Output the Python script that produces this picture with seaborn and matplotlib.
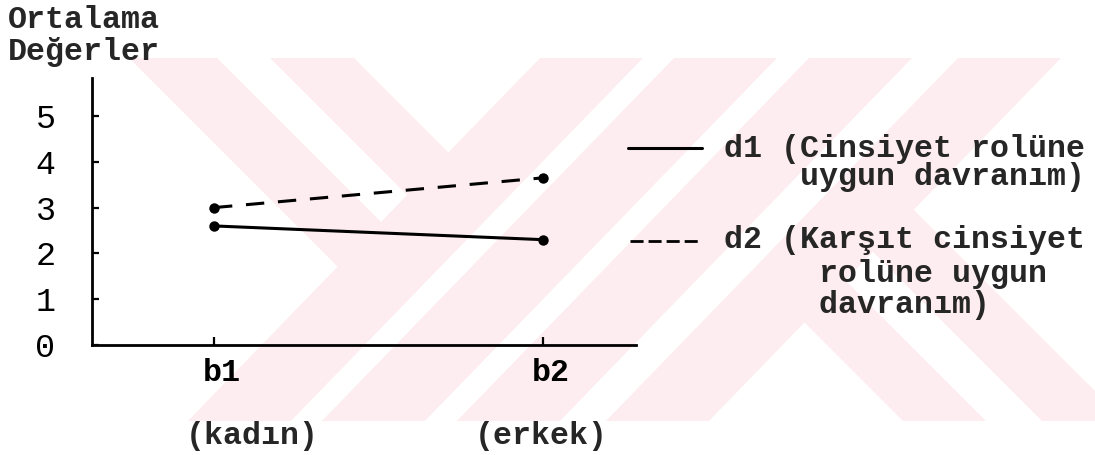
import matplotlib
matplotlib.use("Agg")
import matplotlib.pyplot as plt
import pandas as pd
import seaborn as sns
from matplotlib.patches import Polygon
from matplotlib.lines import Line2D
from matplotlib.transforms import Affine2D, ScaledTranslation

# ---------------- data ----------------
categories = ["b1", "b2"]
category_notes = ["(kadın)", "(erkek)"]
series_names = ["d1", "d2"]
d1_values = [2.6, 2.3]
d2_values = [3.0, 3.65]
y_ticks = [0, 1, 2, 3, 4, 5]
y_title = ["Ortalama", "Değerler"]
legend_d1 = ["d1 (Cinsiyet rolüne", "    uygun davranım)"]
legend_d2 = ["d2 (Karşıt cinsiyet", "     rolüne uygun", "     davranım)"]

# ---------------- figure setup ----------------
W, H, DPI = 1095, 455, 100
FS = 22.8
FW = "bold"
WM_COLOR = "#fdedf0"

sns.set_style("white")
plt.rcParams["font.family"] = ["Liberation Mono", "DejaVu Sans Mono"]
plt.rcParams["font.size"] = FS
plt.rcParams["font.weight"] = FW

fig = plt.figure(figsize=(W / DPI, H / DPI), dpi=DPI, facecolor="white")
px = Affine2D().scale(1 / W, -1 / H).translate(0, 1) + fig.transFigure

# ---------------- background watermark (decoration) ----------------
WM_TOP, WM_BOT = 58, 421
SL = -0.97   # dx/dy of "/" stripes
BS = 1.0     # dx/dy of "\" stripes
fwd_left_top = [540, 674, 809, 958]
fwd_w = 103


def meet(xa, ya, xc0):
    y = (xc0 - SL * WM_TOP - xa + BS * ya) / (BS - SL)
    return (xa + BS * (y - ya), y)


polys = []
for x0 in fwd_left_top:
    polys.append([(x0, WM_TOP), (x0 + fwd_w, WM_TOP),
                  (x0 + fwd_w + SL * (WM_BOT - WM_TOP), WM_BOT),
                  (x0 + SL * (WM_BOT - WM_TOP), WM_BOT)])
c3 = fwd_left_top[0] + fwd_w / 2
for xl, xr in [(129, 217), (270, 354)]:
    polys.append([(xl, WM_TOP), (xr, WM_TOP), meet(xr, WM_TOP, c3), meet(xl, WM_TOP, c3)])
c6 = fwd_left_top[3] + fwd_w / 2
for xl, xr in [(903, 986), (1042, 1125)]:
    polys.append([(xl, WM_BOT), (xr, WM_BOT), meet(xr, WM_BOT, c6), meet(xl, WM_BOT, c6)])
for p in polys:
    fig.add_artist(Polygon(p, closed=True, transform=px, facecolor=WM_COLOR,
                           edgecolor="none", zorder=-10))

# ---------------- axes ----------------
ax_left, ax_right, ax_top, ax_bot = 92, 636, 78, 345
ax = fig.add_axes([ax_left / W, 1 - ax_bot / H, (ax_right - ax_left) / W, (ax_bot - ax_top) / H])
ax.set_facecolor("none")

df = pd.DataFrame({
    "kategori": categories * 2,
    "deger": d1_values + d2_values,
    "seri": [series_names[0]] * len(categories) + [series_names[1]] * len(categories),
})

sns.lineplot(data=df, x="kategori", y="deger", style="seri",
             dashes={"d1": "", "d2": (6, 4.5)},
             markers={"d1": "o", "d2": "o"},
             color="black", linewidth=2.2, markersize=7.5,
             markeredgewidth=0, sort=False, legend=False, ax=ax)

ax.set_xlim(-0.371, 1.283)
ax.set_ylim(0, 5.83)
ax.set_yticks(y_ticks)
ax.set_yticklabels([str(t) for t in y_ticks], fontsize=24, fontweight="normal")
ax.set_xlabel("")
ax.set_ylabel("")

for s in ["top", "right"]:
    ax.spines[s].set_visible(False)
for s in ["left", "bottom"]:
    ax.spines[s].set_color("black")
    ax.spines[s].set_linewidth(2.0)

ax.tick_params(axis="y", left=True, direction="in", length=5, width=1.6,
               pad=26.3, colors="black")
ax.tick_params(axis="x", bottom=True, direction="in", length=6, width=1.6,
               pad=25.9, colors="black", labelsize=FS)
shift = ScaledTranslation(8 / DPI, 0, fig.dpi_scale_trans)
for lbl in ax.get_xticklabels():
    lbl.set_va("baseline")
    lbl.set_transform(lbl.get_transform() + shift)

# ---------------- texts ----------------
fig.text(8, 28.3, y_title[0], transform=px, va="baseline", ha="left")
fig.text(8, 60, y_title[1], transform=px, va="baseline", ha="left")

fig.text(185.5, 444, category_notes[0], transform=px, va="baseline", ha="left")
fig.text(474.5, 444, category_notes[1], transform=px, va="baseline", ha="left")

# ---------------- legend (manual, typewriter style) ----------------
fig.add_artist(Line2D([628, 702], [148, 148], transform=px, color="black", lw=2.2))
fig.add_artist(Line2D([630, 702], [241, 241], transform=px, color="black", lw=2.0,
                      linestyle=(0, (4.7, 1.8))))
for txt, yb in zip(legend_d1, [156.7, 185]):
    fig.text(724.5, yb, txt, transform=px, va="baseline", ha="left")
for txt, yb in zip(legend_d2, [248.3, 281.7, 313]):
    fig.text(724.5, yb, txt, transform=px, va="baseline", ha="left")

fig.savefig("out.png", dpi=DPI, facecolor="white")
